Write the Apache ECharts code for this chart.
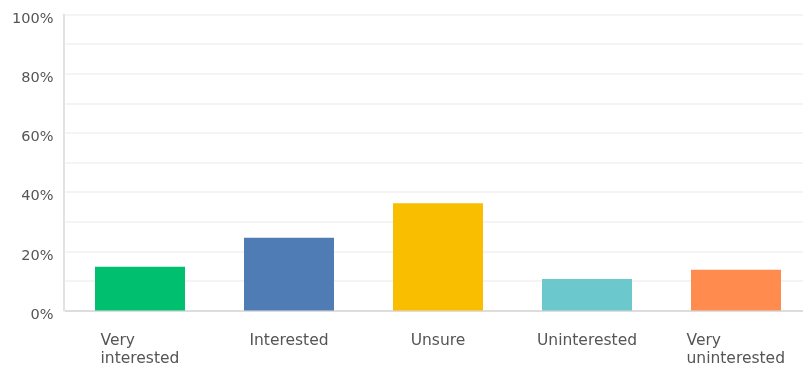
<!DOCTYPE html>
<html>
<head>
<meta charset="utf-8">
<style>
  html, body { margin: 0; padding: 0; background: #fff; }
  #chart { width: 803px; height: 368px; }
</style>
<script src="https://cdn.jsdelivr.net/npm/echarts@6/dist/echarts.min.js"></script>
</head>
<body>
<div id="chart"></div>
<script>
// Survey answers: share of respondents per interest level (%)
const categories = ['Very\ninterested', 'Interested', 'Unsure', 'Uninterested', 'Very\nuninterested'];
const shares = [14.8, 24.6, 36.2, 10.6, 13.8];
const barColors = ['#00bf6f', '#507cb6', '#f9be00', '#6bc8cd', '#ff8b4f'];
const yTickLabels = ['0%', '20%', '40%', '60%', '80%', '100%'];

const FONT = 'DejaVu Sans';
const X_FONT_SIZE = 15.5;
const Y_FONT_SIZE = 14.5;
const TEXT_COLOR = '#555555';

// measure text so two-line labels can be left-aligned inside a centred block
const ctx = document.createElement('canvas').getContext('2d');
ctx.font = X_FONT_SIZE + 'px "' + FONT + '"';
const textWidth = s => Math.ceil(ctx.measureText(s).width);

const rich = {};
categories.forEach((c, i) => {
  if (c.indexOf('\n') >= 0) {
    const w = Math.max.apply(null, c.split('\n').map(textWidth));
    rich['l' + i] = { width: w, align: 'left', lineHeight: 18, fontFamily: FONT, fontSize: X_FONT_SIZE, color: TEXT_COLOR };
  }
});

const chart = echarts.init(document.getElementById('chart'), null, { renderer: 'canvas' });
chart.setOption({
  animation: false,
  grid: { left: 65.5, top: 14.5, width: 745, bottom: 57.5, outerBoundsMode: 'none', containLabel: false },
  xAxis: {
    type: 'category',
    data: categories,
    axisLine: { lineStyle: { color: '#dddddd', width: 2 } },
    axisTick: { show: false },
    axisLabel: {
      interval: 0,
      margin: 21,
      fontFamily: FONT,
      fontSize: X_FONT_SIZE,
      lineHeight: 18,
      color: TEXT_COLOR,
      formatter: function (v, i) {
        if (v.indexOf('\n') < 0) return v;
        return v.split('\n').map(p => '{l' + i + '|' + p + '}').join('\n');
      },
      rich: rich
    }
  },
  yAxis: {
    type: 'value',
    min: 0,
    max: 100,
    interval: 10,
    offset: 2,
    axisLine: { show: true, lineStyle: { color: '#e2e2e2', width: 2 } },
    axisTick: { show: false },
    splitLine: { lineStyle: { color: '#f0f0f0', width: 1.5 } },
    axisLabel: {
      margin: 10,
      fontFamily: FONT,
      fontSize: Y_FONT_SIZE,
      color: TEXT_COLOR,
      verticalAlign: 'top',
      lineHeight: 9,
      formatter: function (v) {
        return v % 20 === 0 ? yTickLabels[v / 20] : '';
      }
    }
  },
  series: [{
    type: 'bar',
    data: shares.map((v, i) => ({ value: v, itemStyle: { color: barColors[i] } })),
    barWidth: 90
  }]
});
</script>
</body>
</html>
